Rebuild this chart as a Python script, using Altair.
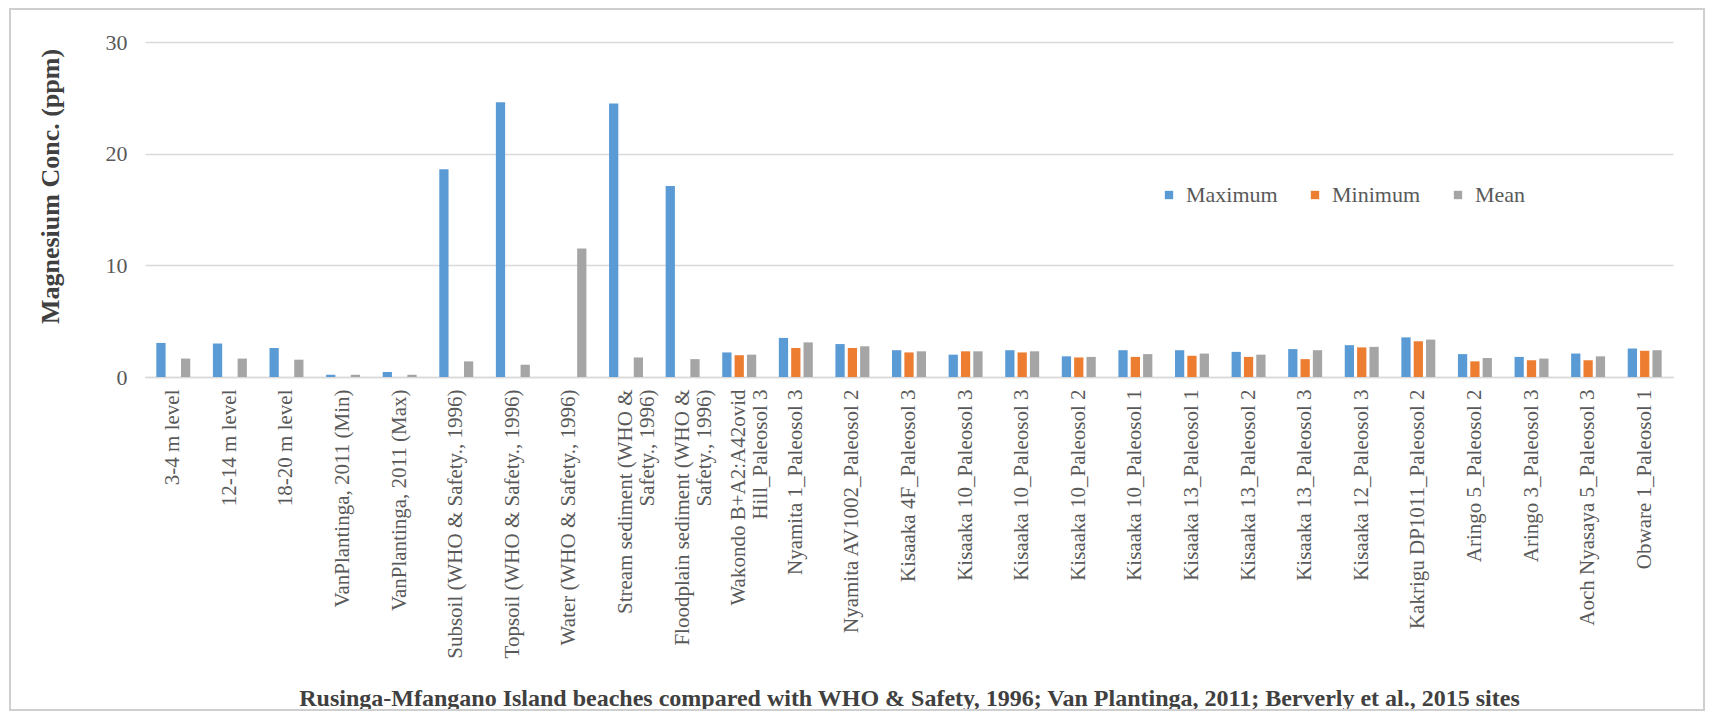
import json
import altair as alt
import pandas as pd

categories = [
    "3-4 m level", "12-14 m level", "18-20 m level",
    "VanPlantinga, 2011 (Min)", "VanPlantinga, 2011 (Max)",
    "Subsoil (WHO & Safety., 1996)", "Topsoil (WHO & Safety., 1996)",
    "Water (WHO & Safety., 1996)", "Stream sediment (WHO &|Safety., 1996)",
    "Floodplain sediment (WHO &|Safety., 1996)", "Wakondo B+A2:A42ovid|Hill_Paleosol 3",
    "Nyamita 1_Paleosol 3", "Nyamita AV1002_Paleosol 2", "Kisaaka 4F_Paleosol 3",
    "Kisaaka 10_Paleosol 3", "Kisaaka 10_Paleosol 3", "Kisaaka 10_Paleosol 2",
    "Kisaaka 10_Paleosol 1", "Kisaaka 13_Paleosol 1", "Kisaaka 13_Paleosol 2",
    "Kisaaka 13_Paleosol 3", "Kisaaka 12_Paleosol 3", "Kakrigu DP1011_Paleosol 2",
    "Aringo 5_Paleosol 2", "Aringo 3_Paleosol 3", "Aoch Nyasaya 5_Paleosol 3",
    "Obware 1_Paleosol 1",
]
maximum = [3.05, 3.0, 2.6, 0.2, 0.45, 18.6, 24.6, None, 24.5, 17.1, 2.2, 3.5, 2.95,
           2.4, 2.0, 2.4, 1.85, 2.4, 2.4, 2.25, 2.5, 2.85, 3.55, 2.05, 1.8, 2.1, 2.55]
minimum = [None, None, None, None, None, None, None, None, None, None, 1.95, 2.6, 2.6,
           2.2, 2.3, 2.2, 1.75, 1.8, 1.9, 1.8, 1.6, 2.65, 3.2, 1.4, 1.5, 1.5, 2.35]
mean = [1.65, 1.65, 1.55, 0.2, 0.2, 1.4, 1.1, 11.5, 1.75, 1.6, 2.0, 3.1, 2.75,
        2.3, 2.3, 2.3, 1.8, 2.05, 2.1, 2.0, 2.4, 2.7, 3.35, 1.7, 1.65, 1.85, 2.4]
series_names = ["Maximum", "Minimum", "Mean"]
series_colors = ["#5B9BD5", "#ED7D31", "#A5A5A5"]

rows = []
for i, _ in enumerate(categories):
    for name, vals in zip(series_names, [maximum, minimum, mean]):
        if vals[i] is not None:
            rows.append({"idx": i, "series": name, "value": vals[i]})
df = pd.DataFrame(rows)

FONT = "Liberation Serif"
label_expr = "split(" + json.dumps(categories) + "[datum.value], '|')"

bars = alt.Chart(df).mark_bar().encode(
    x=alt.X("idx:O",
            scale=alt.Scale(domain=list(range(len(categories))), paddingInner=0.4, paddingOuter=0.2),
            axis=alt.Axis(
                title="Rusinga-Mfangano Island beaches compared with WHO & Safety, 1996; Van Plantinga, 2011; Berverly et al., 2015 sites",
                labelExpr=label_expr, labelAngle=-90, labelFont=FONT, labelFontSize=21,
                labelColor="#595959", labelPadding=12, labelLineHeight=22, labelLimit=500,
                ticks=False, domainColor="#d9d9d9", domainWidth=1.5,
                titleFont=FONT, titleFontSize=24, titleFontWeight="bold", titleColor="#404040",
                titleX=764, titleY=321, titleBaseline="middle", titleAlign="center",
            )),
    xOffset=alt.XOffset("series:N", sort=series_names,
                        scale=alt.Scale(domain=series_names, paddingInner=0.25)),
    y=alt.Y("value:Q",
            scale=alt.Scale(domain=[0, 30], nice=False),
            axis=alt.Axis(
                title="Magnesium Conc. (ppm)", values=[0, 10, 20, 30], domain=False, ticks=False,
                labelFont=FONT, labelFontSize=22, labelColor="#595959", labelPadding=18,
                gridColor="#d9d9d9", gridWidth=1.5,
                titleFont=FONT, titleFontSize=26, titleFontWeight="bold", titleColor="#404040",
                titleX=-95, titleY=144, titleAlign="center", titleBaseline="middle", titleAngle=-90,
            )),
    color=alt.Color("series:N",
                    scale=alt.Scale(domain=series_names, range=series_colors),
                    legend=alt.Legend(
                        title=None, orient="none", direction="horizontal",
                        legendX=1013, legendY=142, symbolType="square", symbolSize=70,
                        symbolStrokeWidth=0, labelFont=FONT, labelFontSize=22,
                        labelColor="#595959", labelOffset=6, columnPadding=26,
                    )),
)

frame = alt.Chart(pd.DataFrame({"a": [0]})).mark_rect(
    fill=None, stroke="#cfcfcf", strokeWidth=2
).encode(
    x=alt.value(-135), x2=alt.value(1559), y=alt.value(-33), y2=alt.value(668)
)

chart = alt.layer(frame, bars).properties(
    width=1528, height=335,
    autosize=alt.AutoSizeParams(type="none"),
    padding={"left": 137, "top": 34, "right": 35, "bottom": 334},
).configure_view(stroke=None)

chart.save("out.html", embed_options={"renderer": "svg", "actions": False})
